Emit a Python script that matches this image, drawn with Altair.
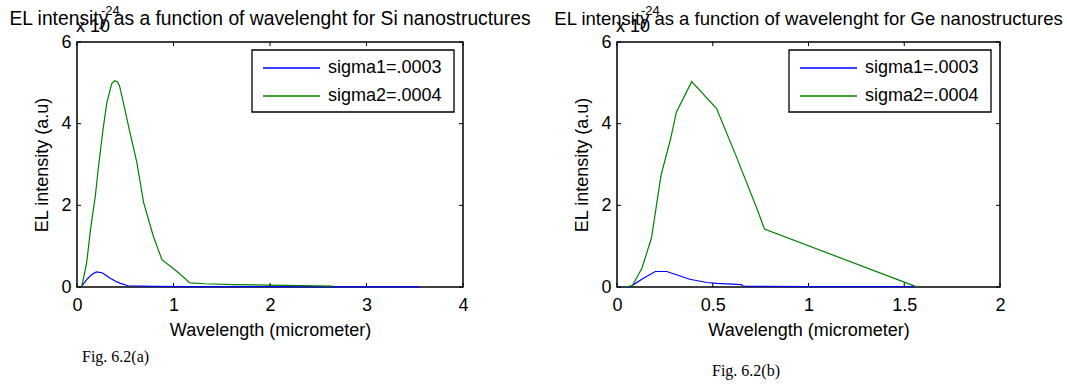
import altair as alt
import pandas as pd

FONT = "Liberation Sans"
SERIES = ["sigma1=.0003", "sigma2=.0004"]
COLORS = ["#0000FF", "#008000"]

# EL intensity, in units of 1e-24, against wavelength in micrometers
si_wl_s1 = [0.05, 0.10, 0.15, 0.20, 0.26, 0.30, 0.34, 0.40, 0.45, 0.53, 0.80, 1.20, 1.62, 2.65, 3.55]
si_el_s1 = [0.02, 0.18, 0.30, 0.37, 0.35, 0.29, 0.22, 0.14, 0.09, 0.03, 0.015, 0.01, 0.01, 0.005, 0.005]
si_wl_s2 = [0.05, 0.10, 0.14, 0.19, 0.22, 0.27, 0.31, 0.36, 0.39, 0.42, 0.44, 0.48, 0.54, 0.62, 0.69,
            0.79, 0.88, 1.03, 1.17, 1.32, 1.62, 2.65]
si_el_s2 = [0.02, 0.59, 1.41, 2.23, 2.89, 3.87, 4.52, 4.98, 5.05, 5.02, 4.93, 4.52, 3.87, 3.05, 2.07,
            1.25, 0.67, 0.39, 0.10, 0.08, 0.06, 0.02]

ge_wl_s1 = [0.04, 0.07, 0.14, 0.20, 0.26, 0.31, 0.38, 0.47, 0.52, 0.65, 0.66, 1.00, 1.55]
ge_el_s1 = [0.00, 0.01, 0.22, 0.38, 0.38, 0.30, 0.19, 0.11, 0.09, 0.06, 0.02, 0.01, 0.01]
ge_wl_s2 = [0.04, 0.08, 0.13, 0.18, 0.23, 0.28, 0.31, 0.39, 0.52, 0.62, 0.73, 0.77, 1.555]
ge_el_s2 = [0.00, 0.03, 0.46, 1.20, 2.74, 3.63, 4.28, 5.03, 4.37, 3.23, 1.93, 1.42, 0.02]

si_xticks = [0, 1, 2, 3, 4]
ge_xticks = [0, 0.5, 1, 1.5, 2]
yticks = [0, 2, 4, 6]

H = 245
TICK = 4


def panel(title, title_size, wl1, el1, wl2, el2, xticks, xmax, width, caption, cap_x, cap_y):
    xs = alt.Scale(domain=[0, xmax], nice=False, zero=False)
    ys = alt.Scale(domain=[0, 6], nice=False)
    x_axis = alt.Axis(
        values=xticks, format="~g", title="Wavelength (micrometer)", grid=False, domain=False,
        ticks=False, labelFlush=False, labelOverlap=False, labelFont=FONT,
        labelFontSize=18, labelColor="black", labelPadding=9, titleFont=FONT,
        titleFontSize=18, titleFontWeight="normal", titleColor="black", titlePadding=7)
    y_axis = alt.Axis(
        values=yticks, title="EL intensity (a.u)", grid=False, domain=False,
        ticks=False, labelOverlap=False, labelFont=FONT, labelFontSize=18,
        labelColor="black", labelPadding=6, titleFont=FONT, titleFontSize=18,
        titleFontWeight="normal", titleColor="black", titlePadding=9)

    def X(field="wl"):
        return alt.X(f"{field}:Q", scale=xs, axis=x_axis)

    def Y(field="el"):
        return alt.Y(f"{field}:Q", scale=ys, axis=y_axis)

    layers = []
    # one line per sigma value
    for wl, el, color in ((wl1, el1, COLORS[0]), (wl2, el2, COLORS[1])):
        df = pd.DataFrame({"wl": wl, "el": el})
        layers.append(alt.Chart(df).mark_line(strokeWidth=1.2, color=color).encode(x=X(), y=Y()))

    # inward ticks on all four sides of the box
    xt = pd.DataFrame({"wl": xticks})
    yt = pd.DataFrame({"el": yticks})
    layers += [
        alt.Chart(xt).mark_rule(color="black").encode(x=X(), y=alt.value(H), y2=alt.value(H - TICK)),
        alt.Chart(xt).mark_rule(color="black").encode(x=X(), y=alt.value(0), y2=alt.value(TICK)),
        alt.Chart(yt).mark_rule(color="black").encode(y=Y(), x=alt.value(0), x2=alt.value(TICK)),
        alt.Chart(yt).mark_rule(color="black").encode(y=Y(), x=alt.value(width), x2=alt.value(width - TICK)),
    ]

    one = alt.Data(values=[{}])
    # legend box in the top-right corner
    bx1, bx2, by1, by2 = width - 211, width - 9, 8, 70
    layers.append(alt.Chart(one).mark_rect(fill="white", stroke="black", strokeWidth=1.3).encode(
        x=alt.value(bx1), x2=alt.value(bx2), y=alt.value(by1), y2=alt.value(by2)))
    for i, (name, color) in enumerate(zip(SERIES, COLORS)):
        ry = 26 + 28 * i
        layers.append(alt.Chart(one).mark_rule(color=color, strokeWidth=1.3).encode(
            x=alt.value(bx1 + 11), x2=alt.value(bx1 + 68), y=alt.value(ry)))
        layers.append(alt.Chart(one).mark_text(
            align="left", baseline="middle", font=FONT, fontSize=18, color="black",
            x=bx1 + 76, y=ry, text=name))

    # title, exponent marker and figure caption
    layers += [
        alt.Chart(one).mark_text(align="center", baseline="alphabetic", font=FONT,
                                 fontSize=title_size, color="black", x=width / 2, y=-17,
                                 text=title),
        alt.Chart(one).mark_text(align="left", baseline="alphabetic", font=FONT, fontSize=18,
                                 color="black", x=-1, y=-10, text="x 10"),
        alt.Chart(one).mark_text(align="left", baseline="alphabetic", font=FONT, fontSize=13,
                                 color="black", x=24, y=-27, text="-24"),
        alt.Chart(one).mark_text(align="left", baseline="middle", font="Liberation Serif",
                                 fontSize=16, color="black", x=cap_x, y=H + cap_y, text=caption),
    ]

    return alt.layer(*layers).properties(width=width, height=H)


si = panel("EL intensity as a function of wavelenght for Si nanostructures", 19.3,
           si_wl_s1, si_el_s1, si_wl_s2, si_el_s2, si_xticks, 4, 386,
           "Fig. 6.2(a)", 5, 70)
ge = panel("EL intensity as a function of wavelenght for Ge nanostructures", 18.5,
           ge_wl_s1, ge_el_s1, ge_wl_s2, ge_el_s2, ge_xticks, 2, 383,
           "Fig. 6.2(b)", 95, 84)

chart = alt.hconcat(si, ge, spacing=154, bounds="flush").properties(
    padding={"left": 8, "top": 4, "right": 0, "bottom": 0},
    background="white",
).configure_view(stroke="black", strokeWidth=1.5)

chart.save("out.html", embed_options={"renderer": "svg", "actions": False})
